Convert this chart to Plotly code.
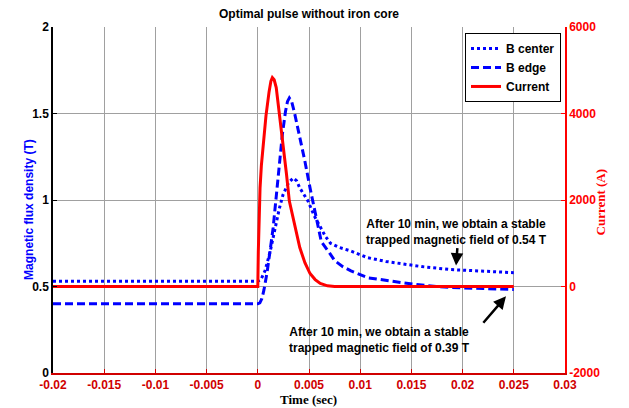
import plotly.graph_objects as go

# ---- data ----
t_center = [-0.02, 0.0, 0.0003, 0.0007, 0.0012, 0.0017, 0.0021, 0.00246, 0.0030, 0.00347,
            0.0038, 0.0041, 0.0045, 0.0049, 0.0055, 0.0061, 0.0066, 0.0071, 0.008, 0.009,
            0.0107, 0.0125, 0.0139, 0.016, 0.0188, 0.022, 0.025]
b_center = [0.53, 0.53, 0.54, 0.59, 0.70, 0.84, 0.95, 1.03, 1.10, 1.127,
            1.11, 1.07, 1.03, 0.994, 0.91, 0.84, 0.79, 0.75, 0.725, 0.707,
            0.667, 0.645, 0.632, 0.615, 0.598, 0.588, 0.58]

t_edge = [-0.02, 0.0, 0.0002, 0.0004, 0.0006, 0.0009, 0.0012, 0.0015, 0.0018, 0.0021,
          0.0024, 0.0027, 0.0029, 0.00308, 0.0033, 0.0036, 0.0041, 0.0046, 0.0051, 0.0055,
          0.0059, 0.0062, 0.00705, 0.0075, 0.0083, 0.0091, 0.0108, 0.0125, 0.014, 0.0165,
          0.0189, 0.022, 0.025]
b_edge = [0.40, 0.40, 0.405, 0.43, 0.48, 0.58, 0.707, 0.84, 1.02, 1.224,
          1.38, 1.51, 1.57, 1.59, 1.57, 1.50, 1.37, 1.224, 1.07, 0.95,
          0.84, 0.76, 0.69, 0.65, 0.615, 0.59, 0.55, 0.535, 0.523, 0.505,
          0.494, 0.488, 0.483]

t_current = [-0.02, 0.0, 0.00005, 0.00012, 0.00022, 0.00035, 0.00054, 0.0008, 0.0011, 0.00128,
             0.00142, 0.0016, 0.0018, 0.0021, 0.00246, 0.0028, 0.00308, 0.0036, 0.0041, 0.0046,
             0.0051, 0.0056, 0.0061, 0.0068, 0.0075, 0.025]
current = [0, 0, 800, 1600, 2280, 2800, 3290, 3950, 4500, 4750,
           4830, 4780, 4600, 4040, 3300, 2600, 1976, 1400, 900, 550,
           300, 160, 70, 15, 0, 0]

x_ticks = [-0.02, -0.015, -0.01, -0.005, 0, 0.005, 0.01, 0.015, 0.02, 0.025, 0.03]
x_ticklabels = ["-0.02", "-0.015", "-0.01", "-0.005", "0", "0.005", "0.01", "0.015", "0.02", "0.025", "0.03"]
y_ticks = [0, 0.5, 1, 1.5, 2]
y_ticklabels = ["0", "0.5", "1", "1.5", "2"]
y2_ticks = [-2000, 0, 2000, 4000, 6000]
y2_ticklabels = ["-2000", "0", "2000", "4000", "6000"]

SANS = "Liberation Sans, Arial, sans-serif"
SERIF = "Liberation Serif, Times New Roman, serif"
RED = "#ff0000"
DRED = "#d00000"

W, H = 621, 400   # page adds an 8px body margin

fig = go.Figure()
fig.add_trace(go.Scatter(x=t_center, y=b_center, name="B center", mode="lines",
                         line=dict(color="#0000ff", width=3, dash="3px,3px")))
fig.add_trace(go.Scatter(x=t_edge, y=b_edge, name="B edge", mode="lines",
                         line=dict(color="#0000ff", width=3, dash="8px,4px")))
fig.add_trace(go.Scatter(x=t_current, y=current, name="Current", mode="lines", yaxis="y2",
                         line=dict(color=RED, width=3)))

fig.update_layout(
    width=W, height=H,
    margin=dict(l=45, r=64, t=17, b=35),
    plot_bgcolor="white", paper_bgcolor="white",
    title=dict(text="<b>Optimal pulse without iron core</b>", x=301/W, xanchor="center",
               y=1 - 6/H, yanchor="middle", yref="container",
               font=dict(family=SANS, size=12, color="black")),
    xaxis=dict(range=[-0.02, 0.03], tickvals=x_ticks, ticktext=x_ticklabels,
               showgrid=True, gridcolor="#a0a0a0", gridwidth=1, zeroline=False,
               showline=True, linecolor=DRED, linewidth=1.5,
               ticks="inside", ticklen=4, tickcolor=DRED,
               tickfont=dict(family=SANS, size=12, color=DRED, weight="bold")),
    xaxis2=dict(range=[-0.02, 0.03], tickvals=x_ticks, showticklabels=False,
                overlaying="x", side="top", anchor="y", showgrid=False, zeroline=False,
                showline=True, linecolor="black", linewidth=1.5,
                ticks="inside", ticklen=4, tickcolor="black"),
    yaxis=dict(range=[0, 2], tickvals=y_ticks, ticktext=y_ticklabels,
               showgrid=True, gridcolor="#a0a0a0", gridwidth=1, zeroline=False,
               showline=True, linecolor="black", linewidth=1.5,
               ticks="inside", ticklen=4, tickcolor="black",
               tickfont=dict(family=SANS, size=12, color="black", weight="bold")),
    yaxis2=dict(range=[-2000, 6000], tickvals=y2_ticks, ticktext=y2_ticklabels,
                overlaying="y", side="right", anchor="x", showgrid=False, zeroline=False,
                showline=True, linecolor=RED, linewidth=1.5,
                ticks="inside", ticklen=4, tickcolor=RED,
                tickfont=dict(family=SANS, size=12, color=RED, weight="bold")),
    legend=dict(x=(561-53)/512, xanchor="right", y=(373-31)/348, yanchor="top",
                bgcolor="white", bordercolor="black", borderwidth=1,
                font=dict(family=SANS, size=12, color="black", weight="bold"),
                tracegroupgap=0, itemwidth=30),
    showlegend=True,
)

annots = [
    dict(text="Magnetic flux density (T)", xref="paper", yref="paper",
         x=(20-53)/512, y=(373-209)/348, textangle=-90, showarrow=False,
         font=dict(family=SANS, size=12, color="#0000ff", weight="bold")),
    dict(text="Current (A)", xref="paper", yref="paper",
         x=(610-53)/512, y=(373-201)/348, textangle=-90, showarrow=False,
         font=dict(family=SERIF, size=13, color=RED, weight="bold")),
    dict(text="Time (sec)", xref="paper", yref="paper",
         x=(308-53)/512, y=(373-391)/348, yanchor="top", showarrow=False, borderpad=0,
         font=dict(family=SERIF, size=13, color="black", weight="bold")),
    dict(text="After 10 min, we obtain a stable<br>trapped magnetic field of 0.54 T",
         xref="x", yref="y", x=0.01941, y=0.813, showarrow=False, align="center",
         font=dict(family=SANS, size=12, color="black", weight="bold")),
    dict(text="After 10 min, we obtain a stable<br>trapped magnetic field of 0.39 T",
         xref="x", yref="y", x=0.01193, y=0.19, showarrow=False, align="center",
         font=dict(family=SANS, size=12, color="black", weight="bold")),
    dict(text="", xref="x", yref="y", x=0.01936, y=0.621, axref="x", ayref="y",
         ax=0.0195, ay=0.73, showarrow=True, arrowhead=2, arrowsize=1, arrowwidth=2.5,
         arrowcolor="black"),
    dict(text="", xref="x", yref="y", x=0.02424, y=0.443, axref="x", ayref="y",
         ax=0.0219, ay=0.282, showarrow=True, arrowhead=2, arrowsize=1, arrowwidth=2.5,
         arrowcolor="black"),
]
fig.update_layout(annotations=annots)

fig.write_html("out.html")
